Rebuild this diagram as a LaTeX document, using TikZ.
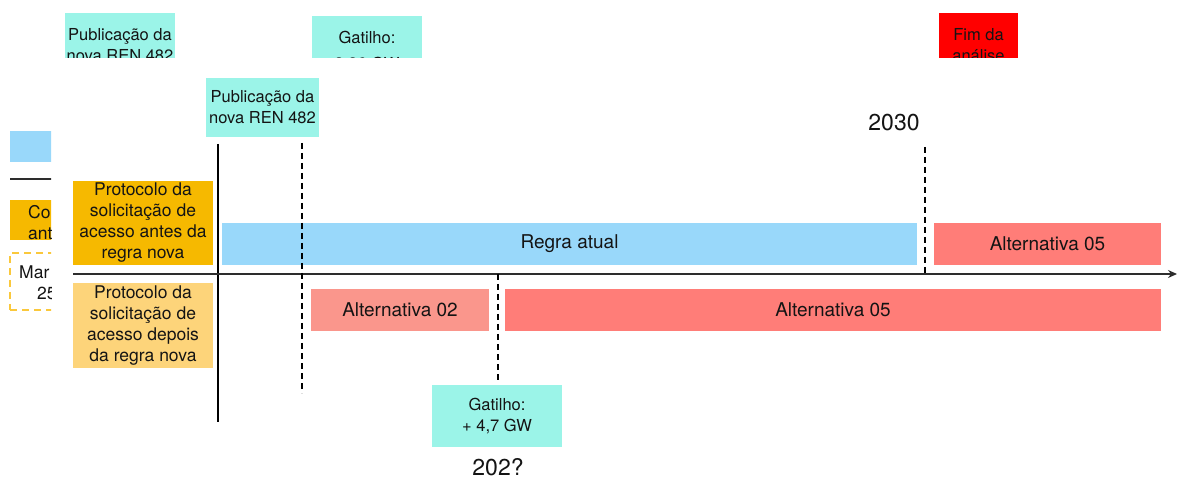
\documentclass[tikz,border=0pt]{standalone}
\usepackage{fontspec}
\setmainfont{TeX Gyre Heros}
\usetikzlibrary{arrows.meta}
\definecolor{tagaqua}{RGB}{155,244,232}
\definecolor{oldorange}{RGB}{246,185,0}
\definecolor{neworange}{RGB}{253,212,122}
\definecolor{rulblue}{RGB}{153,216,250}
\definecolor{altlight}{RGB}{250,150,140}
\definecolor{altred}{RGB}{255,125,120}
\definecolor{endred}{RGB}{255,0,0}
\definecolor{dashyellow}{RGB}{250,200,60}
\definecolor{inkcol}{RGB}{20,20,20}
\definecolor{axiscol}{RGB}{45,45,45}

\begin{document}
\begin{tikzpicture}[
  x=1pt, y=-1pt,
  font=\fontsize{17.5}{21}\selectfont,
  every node/.style={text=inkcol, align=center, inner sep=0pt},
  tag/.style={fill=tagaqua, minimum width=110, minimum height=60,
              font=\fontsize{16.5}{21}\selectfont},
  proto/.style={minimum width=140, minimum height=84},
  bar/.style={minimum height=42, font=\fontsize{19}{22}\selectfont},
  year/.style={font=\fontsize{23}{26}\selectfont},
  axis/.style={draw=axiscol, line width=2pt},
  marker/.style={draw=black, line width=1.8pt, dash pattern=on 6pt off 4pt},
]
\useasboundingbox (0,0) rectangle (1178,478);

% ---- boxes cut off at the top edge ----
\begin{scope}
  \clip (0,0) rectangle (1178,58);
  \node (pubtop) at (120,45)   [tag, minimum height=64] {Publicação da\\nova REN 482};
  \node (gattop) at (367,52)   [tag, minimum height=72] {Gatilho:\\[5pt]3,36 GW};
  \node (fimtop) at (978.5,45) [tag, fill=endred, minimum width=79, minimum height=64] {Fim da\\análise};
\end{scope}

% ---- legend cut off at the left edge ----
\begin{scope}
  \clip (0,0) rectangle (51,478);
  \node (legblue) at (35,146.5) [fill=rulblue, minimum width=50, minimum height=31] {};
  \draw[axis] (10,179) -- (60,179);
  \node (legold) at (35,220) [fill=oldorange, minimum width=50, minimum height=40] {};
  \node (legoldtxt) at (28,223) [anchor=west, align=left] {Co\\ant};
  \node (legdash) at (40,281.5) [draw=dashyellow, line width=2pt, dash pattern=on 7pt off 5pt,
                                 minimum width=60, minimum height=57] {};
  \node (legdashtxt) at (19,283) [anchor=west, align=left] {Mar\\\hspace*{18pt}25};
\end{scope}

% ---- row headers ----
\node (antes)  at (143,223)   [proto, fill=oldorange] {Protocolo da\\solicitação de\\acesso antes da\\regra nova};
\node (depois) at (143,325.5) [proto, fill=neworange, minimum height=85] {Protocolo da\\solicitação de\\acesso depois\\da regra nova};

% ---- bars ----
\node (regra)  at (569.5,244)  [bar, fill=rulblue, minimum width=695] {Regra atual};
\node (alt5up) at (1047.5,244) [bar, fill=altred, minimum width=227] {Alternativa 05};
\node (alt2)   at (400,310)    [bar, fill=altlight, minimum width=178] {Alternativa 02};
\node (alt5dn) at (833,310)    [bar, fill=altred, minimum width=656] {Alternativa 05};

% ---- events ----
\node (pub) at (262.5,107.5) [tag, minimum width=113, minimum height=59] {Publicação da\\nova REN 482};
\node (gat) at (497,416)     [tag, minimum width=130, minimum height=62] {Gatilho:\\+ 4,7 GW};
\node (y2030) at (894,123) [year] {2030};
\node (y202)  at (498,467) [year] {202?};

% ---- axes and markers ----
\coordinate (ytop)   at (218,144);
\coordinate (ybot)   at (218,422);
\coordinate (xstart) at (73,274);
\coordinate (xend)   at (1177,274);
\coordinate (pubA) at (302,143);
\coordinate (pubB) at (302,393);
\coordinate (gatA) at (498,274);
\coordinate (gatB) at (498,382);
\coordinate (endA) at (925,147);
\coordinate (endB) at (925,274);

\draw[axis, draw=black] (ytop) -- (ybot);
\draw[axis, -{Stealth[length=9pt,width=8pt]}] (xstart) -- (xend);
\foreach \a/\b in {pubA/pubB, gatA/gatB, endA/endB}
  \draw[marker] (\a) -- (\b);

\end{tikzpicture}
\end{document}
